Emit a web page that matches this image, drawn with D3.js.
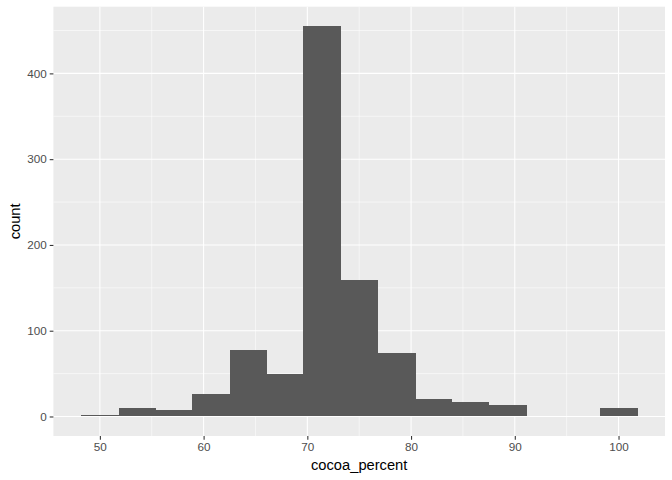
<!DOCTYPE html>
<html>
<head>
<meta charset="utf-8">
<script src="https://cdn.jsdelivr.net/npm/d3@7"></script>
<style>
  body { margin: 0; background: #fff; }
  text { font-family: "Liberation Sans", Arial, sans-serif; }
</style>
</head>
<body>
<div id="chart"></div>
<script>
// histogram bins of cocoa_percent (15 bins)
const binEdges = [48.2, 51.8, 55.4, 58.9, 62.5, 66.1, 69.6, 73.2, 76.8, 80.4, 83.9, 87.5, 91.1, 94.6, 98.2, 101.8];
const binCounts = [2, 10, 8, 26, 78, 50, 455, 159, 74, 20, 17, 13, 0, 0, 10];
const xTicks = [50, 60, 70, 80, 90, 100];
const xMinor = [55, 65, 75, 85, 95];
const yTicks = [0, 100, 200, 300, 400];
const yMinor = [50, 150, 250, 350, 450];

const bins = binCounts.map((c, i) => ({x0: binEdges[i], x1: binEdges[i + 1], count: c}));

const W = 672, H = 480;
const panel = {left: 53.4, right: 665, top: 6.7, bottom: 436};

const svg = d3.select("#chart").append("svg")
  .attr("width", W).attr("height", H);

// ggplot style 5% expansion
const xLo = binEdges[0], xHi = binEdges[binEdges.length - 1];
const xPad = (xHi - xLo) * 0.05;
const x = d3.scaleLinear()
  .domain([xLo - xPad, xHi + xPad])
  .range([panel.left, panel.right]);

const yMax = d3.max(binCounts);
const y = d3.scaleLinear()
  .domain([-yMax * 0.05, yMax * 1.05])
  .range([panel.bottom, panel.top]);

// panel background
svg.append("rect")
  .attr("x", panel.left).attr("y", panel.top)
  .attr("width", panel.right - panel.left)
  .attr("height", panel.bottom - panel.top)
  .attr("fill", "#EBEBEB");

const grid = svg.append("g");
grid.selectAll(".ymin").data(yMinor).join("line")
  .attr("x1", panel.left).attr("x2", panel.right)
  .attr("y1", d => y(d)).attr("y2", d => y(d))
  .attr("stroke", "#fff").attr("stroke-width", 0.55);
grid.selectAll(".xmin").data(xMinor).join("line")
  .attr("y1", panel.top).attr("y2", panel.bottom)
  .attr("x1", d => x(d)).attr("x2", d => x(d))
  .attr("stroke", "#fff").attr("stroke-width", 0.55);
grid.selectAll(".ymaj").data(yTicks).join("line")
  .attr("x1", panel.left).attr("x2", panel.right)
  .attr("y1", d => y(d)).attr("y2", d => y(d))
  .attr("stroke", "#fff").attr("stroke-width", 1.07);
grid.selectAll(".xmaj").data(xTicks).join("line")
  .attr("y1", panel.top).attr("y2", panel.bottom)
  .attr("x1", d => x(d)).attr("x2", d => x(d))
  .attr("stroke", "#fff").attr("stroke-width", 1.07);

// bars (crisp edges so neighbouring bars show no seam)
svg.append("g")
  .attr("shape-rendering", "crispEdges")
  .selectAll("rect")
  .data(bins)
  .join("rect")
    .attr("x", d => x(d.x0))
    .attr("width", d => x(d.x1) - x(d.x0) + 0.5)
    .attr("y", d => y(d.count))
    .attr("height", d => y(0) - y(d.count))
    .attr("fill", "#595959");

// axes
const xAxis = svg.append("g")
  .attr("transform", "translate(0," + panel.bottom + ")")
  .call(d3.axisBottom(x).tickValues(xTicks).tickSize(3.7).tickPadding(3));
const yAxis = svg.append("g")
  .attr("transform", "translate(" + panel.left + ",0)")
  .call(d3.axisLeft(y).tickValues(yTicks).tickSize(3.7).tickPadding(3));

[xAxis, yAxis].forEach(g => {
  g.select(".domain").remove();
  g.selectAll(".tick line").attr("stroke", "#333333").attr("stroke-width", 1.07);
  g.selectAll(".tick text")
    .attr("fill", "#4D4D4D")
    .style("font-size", "11.7px")
    .style("font-family", "'Liberation Sans', Arial, sans-serif");
});

// axis titles
svg.append("text")
  .attr("x", (panel.left + panel.right) / 2)
  .attr("y", 470)
  .attr("text-anchor", "middle")
  .style("font-size", "14.7px")
  .attr("fill", "#000")
  .text("cocoa_percent");

svg.append("text")
  .attr("transform", "translate(20," + ((panel.top + panel.bottom) / 2) + ") rotate(-90)")
  .attr("text-anchor", "middle")
  .style("font-size", "14.7px")
  .attr("fill", "#000")
  .text("count");
</script>
</body>
</html>
